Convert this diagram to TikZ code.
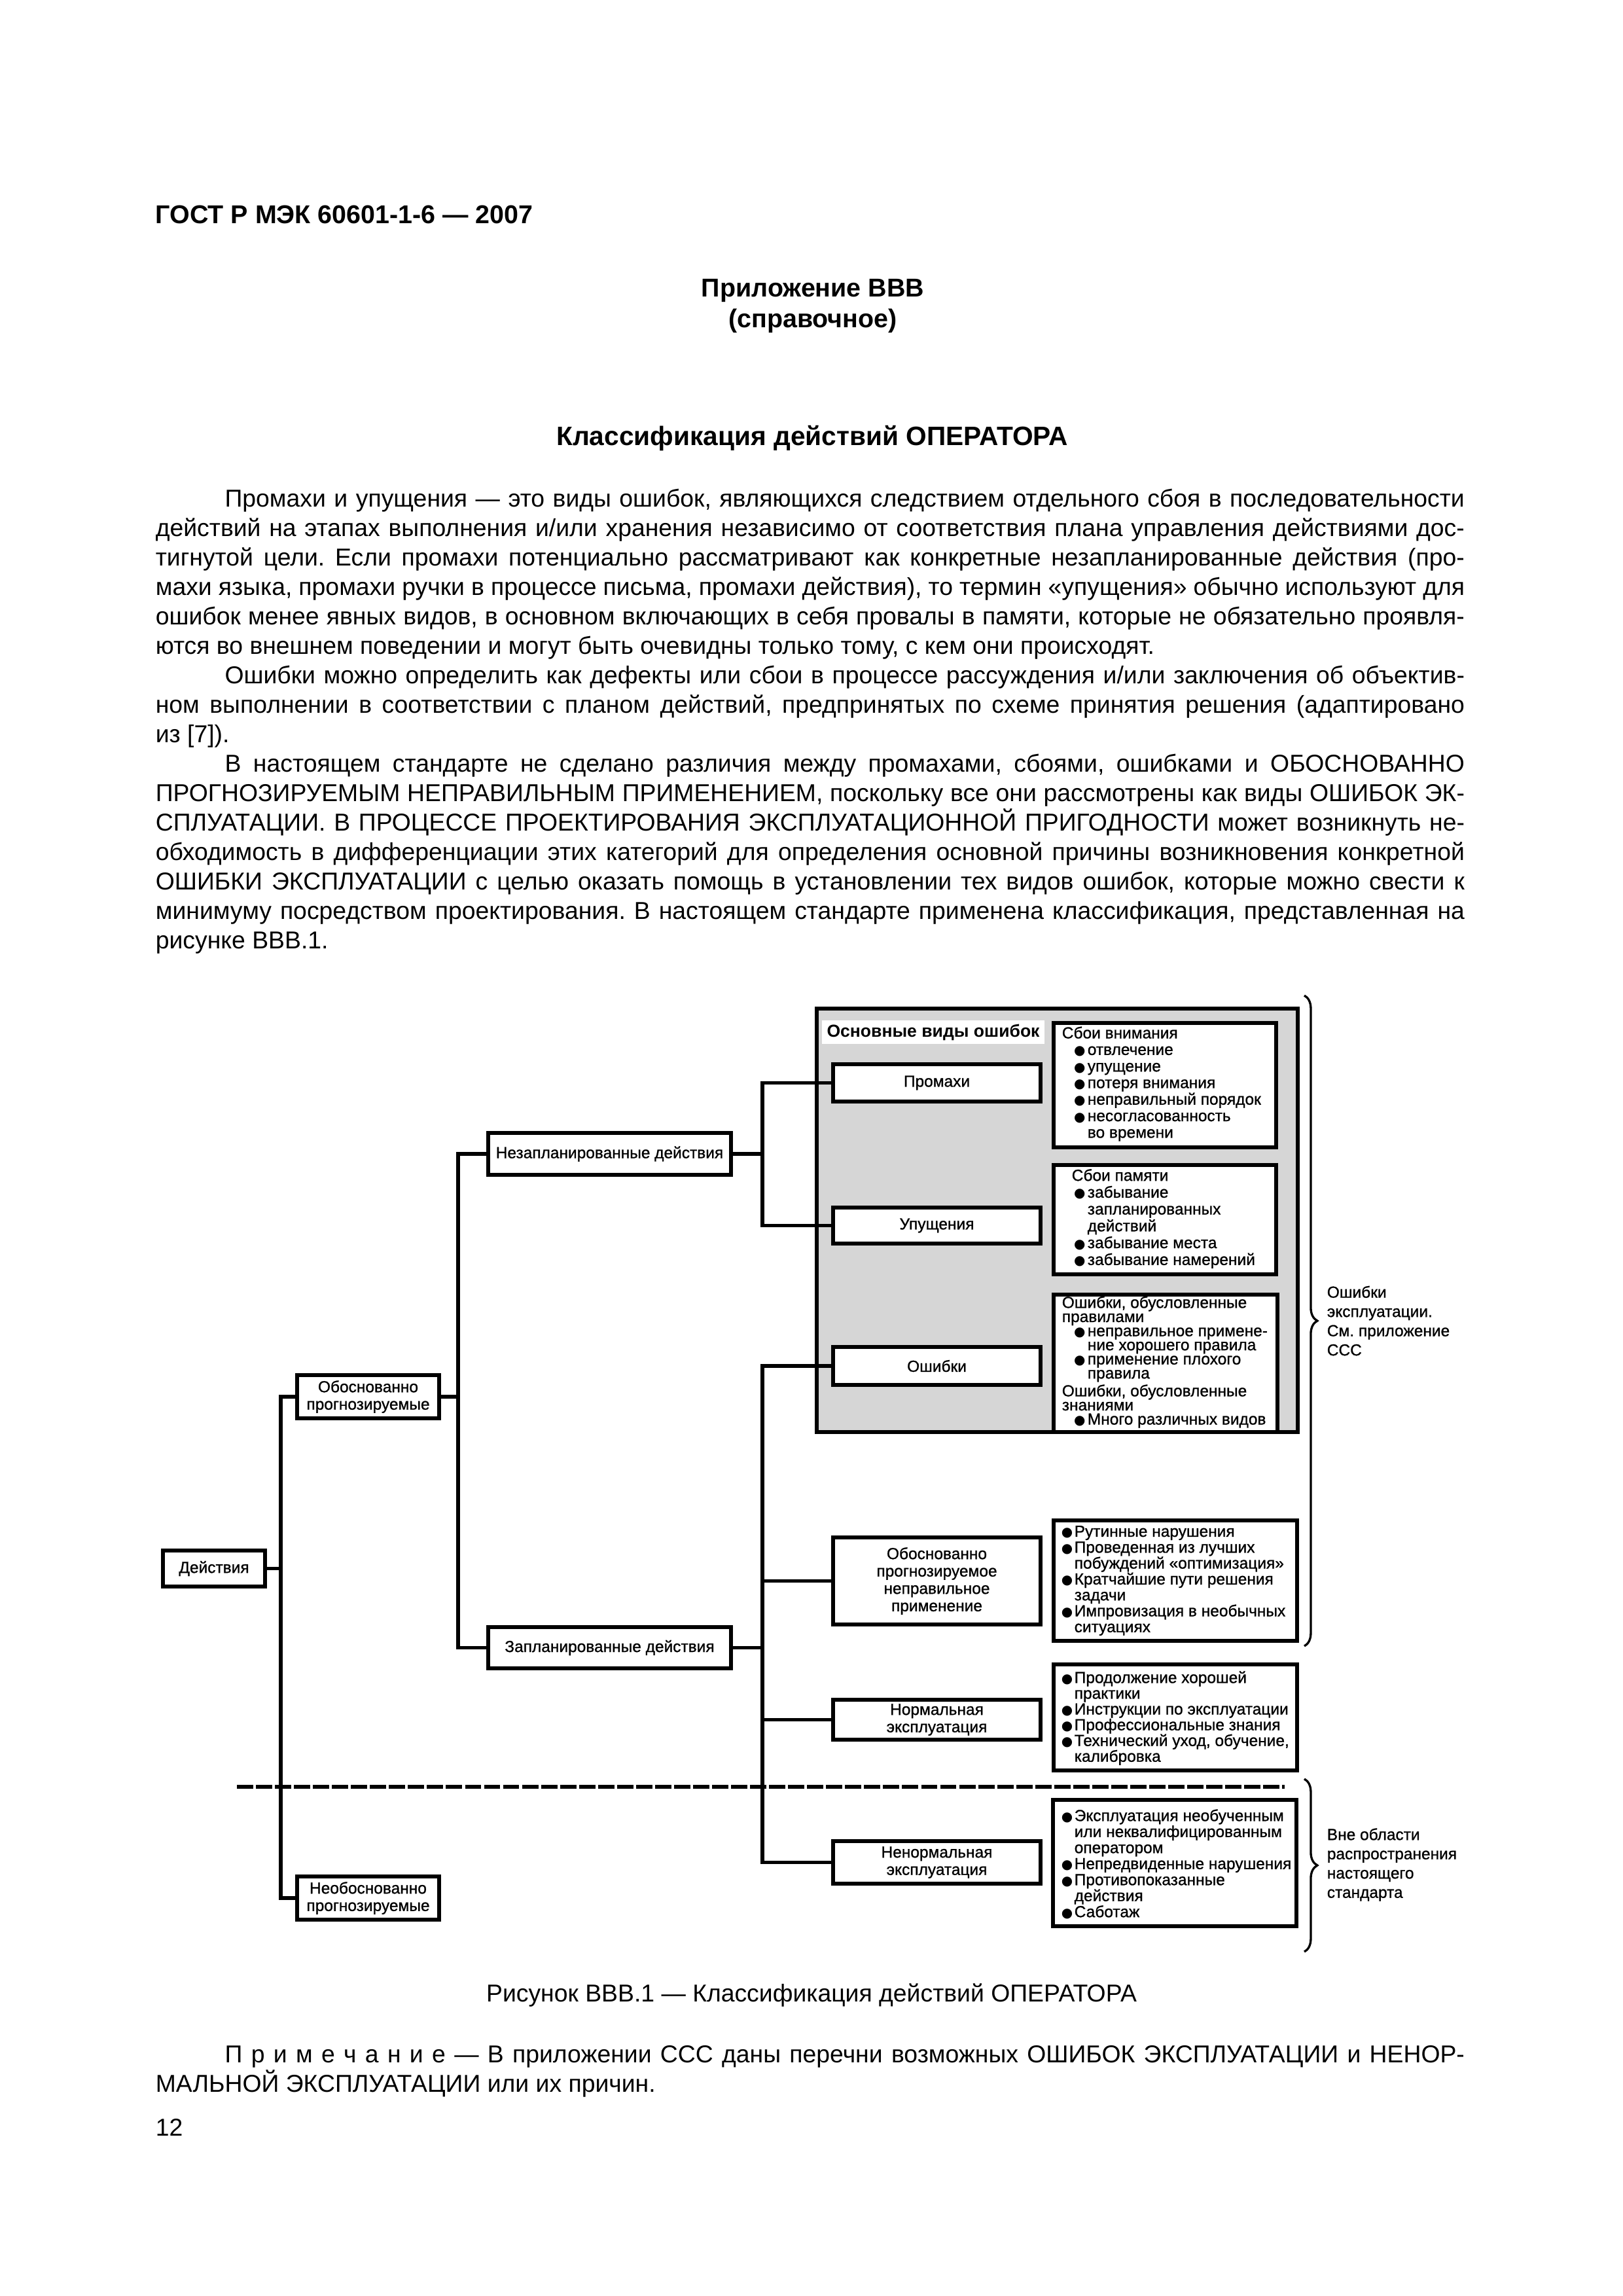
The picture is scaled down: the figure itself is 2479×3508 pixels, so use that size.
\documentclass[tikz,border=0pt]{standalone}
\usepackage{fontspec}
\setmainfont{Liberation Sans}
\newfontfamily\figfont{Liberation Sans}[FakeBold=1]
\newfontfamily\symfont{DejaVu Sans}
\usetikzlibrary{fit,decorations.pathreplacing}
\definecolor{greyfill}{RGB}{214,214,214}
\frenchspacing
\newlength\mytw \setlength\mytw{482.06pt}
\newcommand\myIL[1]{\hbox to \mytw{\hskip25.5pt\relax #1}}
\newcommand\myJL[1]{\hbox to \mytw{#1}}
\newcommand\myLL[1]{\hbox to \mytw{#1\hfil}}
\newcommand\mybul[1]{\makebox[#1][l]{\symfont\fontsize{4.8}{4.8}\selectfont ●}}
\tikzset{
  bodytext/.style={inner sep=0pt, anchor=base west, font=\fontsize{9}{10.85}\selectfont},
  headtext/.style={inner sep=0pt, anchor=base, font=\bfseries\fontsize{9.5}{11}\selectfont},
  fbox/.style={draw, line width=1.35pt, fill=white, inner sep=0pt},
  flab/.style={inner sep=0pt, align=center, font=\figfont\fontsize{5.9}{6.4}\selectfont},
  bbox/.style={draw, line width=1.35pt, fill=white, inner sep=0pt},
  greyb/.style={draw, line width=1.35pt, fill=greyfill, inner sep=0pt},
  hdr/.style={fill=white, inner sep=0pt},
  hdrlab/.style={inner sep=0pt, font=\bfseries\fontsize{6.4}{7}\selectfont},
  btext/.style={inner sep=0pt, anchor=west, align=left},
  conn/.style={line width=1.35pt},
  dashl/.style={line width=1.45pt, dash pattern=on 6pt off 1pt},
  bracel/.style={line width=0.8pt, decorate, decoration={brace, amplitude=4.8pt}},
  brlab/.style={inner sep=0pt, anchor=west, align=left, font=\figfont\fontsize{5.9}{7.1}\selectfont}
}
\begin{document}
\begin{tikzpicture}[x=0.084712mm, y=-0.084712mm]
\useasboundingbox (0,0) rectangle (2479,3508);
\fill[white] (0,0) rectangle (2479,3508);

% ---------- page header and text ----------
\node[inner sep=0pt, anchor=base west, font=\bfseries\fontsize{9.5}{11}\selectfont] (gost) at (237,341) {ГОСТ Р МЭК 60601-1-6 — 2007};
\node[headtext] (app) at (1242,453) {Приложение ВВВ};
\node[headtext] (appref) at (1242,500) {(справочное)};
\node[headtext, font=\bfseries\fontsize{9.8}{11}\selectfont] (title) at (1241,680) {Классификация действий ОПЕРАТОРА};

\node[bodytext] (par1) at (237,774) {\vtop{\baselineskip=10.85pt\lineskiplimit=-20pt
\myIL{Промахи и упущения — это виды ошибок, являющихся следствием отдельного сбоя в последовательности}
\myJL{действий на этапах выполнения и/или хранения независимо от соответствия плана управления действиями дос-}
\myJL{тигнутой цели. Если промахи потенциально рассматривают как конкретные незапланированные действия (про-}
\myJL{махи языка, промахи ручки в процессе письма, промахи действия), то термин «упущения» обычно используют для}
\myJL{ошибок менее явных видов, в основном включающих в себя провалы в памяти, которые не обязательно проявля-}
\myLL{ются во внешнем поведении и могут быть очевидны только тому, с кем они происходят.}}};

\node[bodytext] (par2) at (237,1044) {\vtop{\baselineskip=10.85pt\lineskiplimit=-20pt
\myIL{Ошибки можно определить как дефекты или сбои в процессе рассуждения и/или заключения об объектив-}
\myJL{ном выполнении в соответствии с планом действий, предпринятых по схеме принятия решения (адаптировано}
\myLL{из [7]).}}};

\node[bodytext] (par3) at (237,1179) {\vtop{\baselineskip=10.85pt\lineskiplimit=-20pt
\myIL{В настоящем стандарте не сделано различия между промахами, сбоями, ошибками и ОБОСНОВАННО}
\myJL{ПРОГНОЗИРУЕМЫМ НЕПРАВИЛЬНЫМ ПРИМЕНЕНИЕМ, поскольку все они рассмотрены как виды ОШИБОК ЭК-}
\myJL{СПЛУАТАЦИИ. В ПРОЦЕССЕ ПРОЕКТИРОВАНИЯ ЭКСПЛУАТАЦИОННОЙ ПРИГОДНОСТИ может возникнуть не-}
\myJL{обходимость в дифференциации этих категорий для определения основной причины возникновения конкретной}
\myJL{ОШИБКИ ЭКСПЛУАТАЦИИ с целью оказать помощь в установлении тех видов ошибок, которые можно свести к}
\myJL{минимуму посредством проектирования. В настоящем стандарте применена классификация, представленная на}
\myLL{рисунке ВВВ.1.}}};

\node[inner sep=0pt, anchor=base, font=\fontsize{9}{10.85}\selectfont] (caption) at (1240,3058) {Рисунок ВВВ.1 — Классификация действий ОПЕРАТОРА};

\node[bodytext] (note) at (237,3151) {\vtop{\baselineskip=10.85pt\lineskiplimit=-20pt
\myIL{П р и м е ч а н и е — В приложении ССС даны перечни возможных ОШИБОК ЭКСПЛУАТАЦИИ и НЕНОР-}
\myLL{МАЛЬНОЙ ЭКСПЛУАТАЦИИ или их причин.}}};

\node[bodytext] (pagenum) at (237,3263) {12};

% ---------- grey area and description boxes ----------
\node[greyb, fit={(1248,1541) (1983,2188)}] (grey) {};
\node[hdr, fit={(1256,1559) (1596,1595)}] (hdrn) {};
\node[hdrlab] (hdrT) at (hdrn.center) {Основные виды ошибок};
\node[bbox, fit={(1610,1563) (1950,1753)}] (att) {};
\node[bbox, fit={(1610,1780) (1950,1947)}] (mem) {};
\node[bbox, fit={(1610,1978) (1952,2188)}] (err) {};
\node[bbox, fit={(1610,2323) (1982,2507)}] (b1) {};
\node[bbox, fit={(1610,2543) (1982,2705)}] (b2) {};
\node[bbox, fit={(1609,2750) (1981,2943)}] (b3) {};

\node[btext, font=\figfont\fontsize{5.9}{6.1}\selectfont] (attT) at (1622,1656) {Сбои внимания\\
\hspace*{4.4pt}\mybul{5pt}отвлечение\\
\hspace*{4.4pt}\mybul{5pt}упущение\\
\hspace*{4.4pt}\mybul{5pt}потеря внимания\\
\hspace*{4.4pt}\mybul{5pt}неправильный порядок\\
\hspace*{4.4pt}\mybul{5pt}несогласованность\\
\hspace*{9.4pt}во времени};

\node[btext, font=\figfont\fontsize{5.9}{6.2}\selectfont] (memT) at (1622,1862) {\hspace*{3.6pt}Сбои памяти\\
\hspace*{4.4pt}\mybul{5pt}забывание\\
\hspace*{9.4pt}запланированных\\
\hspace*{9.4pt}действий\\
\hspace*{4.4pt}\mybul{5pt}забывание места\\
\hspace*{4.4pt}\mybul{5pt}забывание намерений};

\node[btext, font=\figfont\fontsize{5.9}{5.2}\selectfont] (errT) at (1622,2081) {Ошибки, обусловленные\\
правилами\\
\hspace*{4.4pt}\mybul{5pt}неправильное примене-\\
\hspace*{9.4pt}ние хорошего правила\\
\hspace*{4.4pt}\mybul{5pt}применение плохого\\
\hspace*{9.4pt}правила\\
Ошибки, обусловленные\\
знаниями\\
\hspace*{4.4pt}\mybul{5pt}Много различных видов};

\node[btext, font=\figfont\fontsize{5.9}{5.86}\selectfont] (b1T) at (1621,2415) {\mybul{4.8pt}Рутинные нарушения\\
\mybul{4.8pt}Проведенная из лучших\\
\hspace*{4.8pt}побуждений «оптимизация»\\
\mybul{4.8pt}Кратчайшие пути решения\\
\hspace*{4.8pt}задачи\\
\mybul{4.8pt}Импровизация в необычных\\
\hspace*{4.8pt}ситуациях};

\node[btext, font=\figfont\fontsize{5.9}{5.8}\selectfont] (b2T) at (1621,2625) {\mybul{4.8pt}Продолжение хорошей\\
\hspace*{4.8pt}практики\\
\mybul{4.8pt}Инструкции по эксплуатации\\
\mybul{4.8pt}Профессиональные знания\\
\mybul{4.8pt}Технический уход, обучение,\\
\hspace*{4.8pt}калибровка};

\node[btext, font=\figfont\fontsize{5.9}{5.9}\selectfont] (b3T) at (1621,2848) {\mybul{4.8pt}Эксплуатация необученным\\
\hspace*{4.8pt}или неквалифицированным\\
\hspace*{4.8pt}оператором\\
\mybul{4.8pt}Непредвиденные нарушения\\
\mybul{4.8pt}Противопоказанные\\
\hspace*{4.8pt}действия\\
\mybul{4.8pt}Саботаж};

% ---------- junction coordinates ----------
\coordinate (j1) at (429,2396);
\coordinate (j2) at (700,2134);
\coordinate (j3) at (1165,1763);
\coordinate (j4) at (1165,2517);

% ---------- classification boxes ----------
\node[fbox, fit={(249,2369) (405,2424)}] (act) {};
\node[fbox, fit={(454,2101) (671,2167)}] (obp) {};
\node[fbox, fit={(454,2867) (671,2933)}] (nobp) {};
\node[fbox, fit={(746,1731) (1117,1795)}] (unpl) {};
\node[fbox, fit={(746,2486) (1117,2549)}] (pl) {};
\node[fbox, fit={(1273,1626) (1590,1683)}] (slip) {};
\node[fbox, fit={(1273,1845) (1590,1900)}] (lapse) {};
\node[fbox, fit={(1273,2058) (1590,2116)}] (mist) {};
\node[fbox, fit={(1273,2349) (1590,2482)}] (rfm) {};
\node[fbox, fit={(1273,2597) (1590,2658)}] (norm) {};
\node[fbox, fit={(1273,2813) (1590,2878)}] (abn) {};

\node[flab] (actT) at (act.center) {Действия};
\node[flab] (obpT) at (obp.center) {Обоснованно\\прогнозируемые};
\node[flab] (nobpT) at (nobp.center) {Необоснованно\\прогнозируемые};
\node[flab] (unplT) at (unpl.center) {Незапланированные действия};
\node[flab] (plT) at (pl.center) {Запланированные действия};
\node[flab] (slipT) at (slip.center) {Промахи};
\node[flab] (lapseT) at (lapse.center) {Упущения};
\node[flab] (mistT) at (mist.center) {Ошибки};
\node[flab] (rfmT) at (rfm.center) {Обоснованно\\прогнозируемое\\неправильное\\применение};
\node[flab] (normT) at (norm.center) {Нормальная\\эксплуатация};
\node[flab] (abnT) at (abn.center) {Ненормальная\\эксплуатация};

% ---------- connectors ----------
\draw[conn] (act.east) -- (act.east -| j1);
\draw[conn] (obp.west) -| (j1) |- (nobp.west);
\draw[conn] (obp.east) -- (obp.east -| j2);
\draw[conn] (unpl.west) -| (j2) |- (pl.west);
\draw[conn] (unpl.east) -- (unpl.east -| j3);
\draw[conn] (slip.west) -| (j3) |- (lapse.west);
\draw[conn] (pl.east) -- (pl.east -| j4);
\draw[conn] (mist.west) -| (j4) |- (abn.west);
\draw[conn] (rfm.west) -- (rfm.west -| j4);
\draw[conn] (norm.west) -- (norm.west -| j4);

% ---------- dashed boundary ----------
\coordinate (d1) at (362,2730);
\coordinate (d2) at (1963,2730);
\draw[dashl] (d1) -- (d2);

% ---------- braces ----------
\coordinate (br1t) at (1993,1521);
\coordinate (br1b) at (1993,2515);
\coordinate (br2t) at (1993,2718);
\coordinate (br2b) at (1993,2982);
\draw[bracel] (br1t) -- (br1b);
\draw[bracel] (br2t) -- (br2b);
\node[brlab] (brl1) at (2027,2018) {Ошибки\\эксплуатации.\\См. приложение\\ССС};
\node[brlab] (brl2) at (2027,2849) {Вне области\\распространения\\настоящего\\стандарта};
\end{tikzpicture}
\end{document}
